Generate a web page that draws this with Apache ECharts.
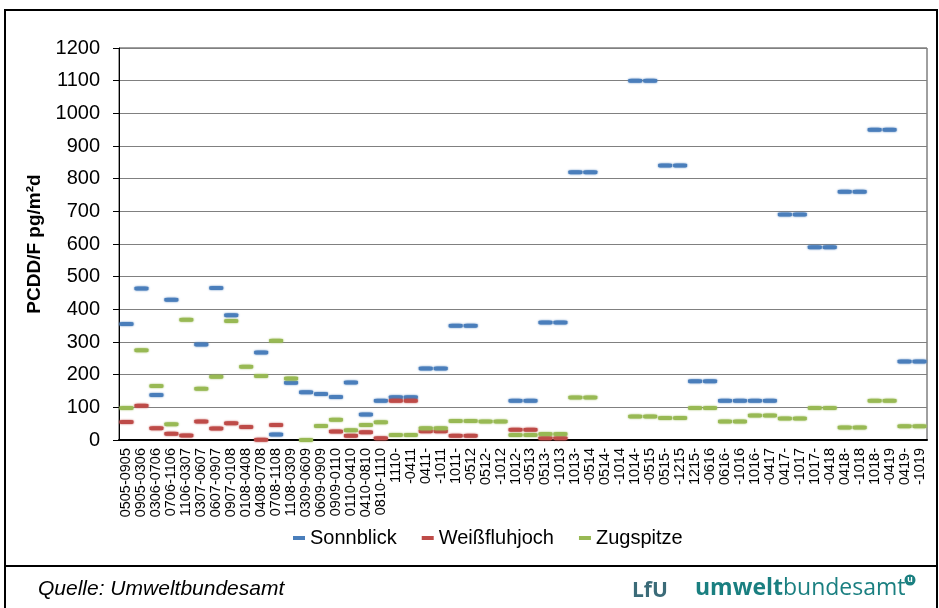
<!DOCTYPE html>
<html lang="de">
  <head>
    <meta charset="UTF-8" />
    <title>PCDD/F Deposition</title>
    <script src="https://cdn.jsdelivr.net/npm/echarts@6/dist/echarts.min.js"></script>
    <style>
      body { margin: 0; background: #fff; }
    </style>
  </head>
  <body>
    <div id="main" style="width: 939px; height: 608px"></div>
    <script type="text/javascript">
      // sampling periods (MMYY-MMYY), later periods split over two slots
      const periods = [
        "0505-0905", "0905-0306", "0306-0706", "0706-1106", "1106-0307", "0307-0607",
        "0607-0907", "0907-0108", "0108-0408", "0408-0708", "0708-1108", "1108-0309",
        "0309-0609", "0609-0909", "0909-0110", "0110-0410", "0410-0810", "0810-1110",
        "1110-", "-0411", "0411-", "-1011", "1011-", "-0512", "0512-", "-1012",
        "1012-", "-0513", "0513-", "-1013", "1013-", "-0514", "0514-", "-1014",
        "1014-", "-0515", "0515-", "-1215", "1215-", "-0616", "0616-", "-1016",
        "1016-", "-0417", "0417-", "-1017", "1017-", "-0418", "0418-", "-1018",
        "1018-", "-0419", "0419-", "-1019"
      ];

      const sonnblick = [
        355, 464, 138, 429, null, 292, 465, 382, null, 268, 17, 175,
        146, 141, 132, 176, 78, 120,
        131, 131, 219, 219, 350, 350, null, null, 120, 120, 360, 360,
        820, 820, null, null, 1100, 1100, 840, 840, 180, 180, 120, 120,
        120, 120, 690, 690, 590, 590, 760, 760, 950, 950, 240, 240
      ];

      const weissfluhjoch = [
        55, 105, 36, 19, 14, 57, 35, 51, 40, 1, 46, null,
        null, null, 26, 13, 24, 5,
        120, 120, 27, 27, 13, 13, null, null, 31, 31, 5, 5,
        null, null, null, null, null, null, null, null, null, null, null, null,
        null, null, null, null, null, null, null, null, null, null, null, null
      ];

      const zugspitze = [
        98, 275, 165, 48, 368, 157, 194, 364, 224, 196, 304, 188,
        0, 43, 62, 30, 46, 54,
        15, 15, 36, 36, 58, 58, 57, 57, 15, 15, 18, 18,
        130, 130, null, null, 72, 72, 67, 67, 98, 98, 57, 57,
        75, 75, 66, 66, 98, 98, 38, 38, 120, 120, 42, 42
      ];

      const yTicks = { min: 0, max: 1200, step: 100 };
      const font = "Arial, 'Liberation Sans', sans-serif";

      function dashSeries(name, data, color) {
        return {
          name: name,
          type: "scatter",
          data: data,
          symbol: "roundRect",
          symbolSize: [14, 4],
          itemStyle: {
            color: color,
            shadowColor: color,
            shadowBlur: 2,
            opacity: 1
          },
          emphasis: { disabled: true },
          animation: false
        };
      }

      let options = {
        backgroundColor: "#fff",
        textStyle: { fontFamily: font },
        grid: {
          left: 119,
          right: 12,
          top: 48,
          bottom: 168,
          show: true,
          borderColor: "#404040",
          borderWidth: 1
        },
        legend: {
          left: 288,
          top: 523,
          icon: "rect",
          itemWidth: 12,
          itemHeight: 4,
          itemGap: 25,
          textStyle: { fontSize: 20, color: "#000", fontFamily: font },
          data: ["Sonnblick", "Weißfluhjoch", "Zugspitze"]
        },
        xAxis: {
          type: "category",
          data: periods,
          boundaryGap: true,
          axisLine: { lineStyle: { color: "#000", width: 2 } },
          axisTick: { interval: 0, length: 5, lineStyle: { color: "#000" } },
          axisLabel: {
            interval: 0,
            rotate: 90,
            margin: 8,
            fontSize: 14.5,
            color: "#000",
            fontFamily: font
          },
          splitLine: { show: false }
        },
        yAxis: {
          type: "value",
          min: yTicks.min,
          max: yTicks.max,
          interval: yTicks.step,
          name: "PCDD/F pg/m²d",
          nameLocation: "middle",
          nameRotate: 90,
          nameGap: 64,
          nameTextStyle: { fontSize: 19, fontWeight: "bold", color: "#000", fontFamily: font },
          axisLine: { show: true, lineStyle: { color: "#000", width: 1 } },
          axisTick: { show: true, length: 6, lineStyle: { color: "#000" } },
          axisLabel: {
            fontSize: 20,
            color: "#000",
            margin: 19,
            fontFamily: font,
            formatter: (v) => String(v)
          },
          splitLine: { lineStyle: { color: "#808080", width: 1 } }
        },
        series: [
          dashSeries("Sonnblick", sonnblick, "#4a7ebb"),
          dashSeries("Weißfluhjoch", weissfluhjoch, "#be4b48"),
          dashSeries("Zugspitze", zugspitze, "#98b954")
        ],
        graphic: [
          // outer frame and divider above the source line
          {
            type: "rect",
            shape: { x: 5, y: 10, width: 932, height: 620 },
            style: { fill: null, stroke: "#000", lineWidth: 2 },
            silent: true
          },
          {
            type: "line",
            shape: { x1: 5, y1: 566, x2: 938, y2: 566 },
            style: { stroke: "#000", lineWidth: 2 },
            silent: true
          },
          {
            type: "text",
            left: 38,
            top: 579,
            style: {
              text: "Quelle: Umweltbundesamt",
              font: "italic 21px " + font,
              fill: "#000"
            }
          },
          {
            type: "text",
            left: 632,
            top: 581,
            style: {
              text: "LfU",
              font: "bold 21px 'Open Sans', sans-serif",
              fill: "#3b6b78"
            }
          },
          {
            type: "text",
            left: 695,
            top: 577,
            style: {
              text: "{b|umwelt}{r|bundesamt}",
              rich: {
                b: { font: "bold 23px 'Open Sans', sans-serif", fill: "#1a7f80" },
                r: { font: "23px 'Open Sans', sans-serif", fill: "#1a7f80" }
              }
            }
          },
          {
            type: "circle",
            shape: { cx: 910, cy: 580, r: 5.5 },
            style: { fill: "#1a7f80" }
          },
          {
            type: "text",
            x: 910,
            y: 580,
            style: {
              text: "u",
              font: "bold 9px sans-serif",
              fill: "#fff",
              align: "center",
              verticalAlign: "middle"
            }
          }
        ]
      };

      let myChart = echarts.init(document.getElementById("main"));
      myChart.setOption(options);
    </script>
  </body>
</html>
